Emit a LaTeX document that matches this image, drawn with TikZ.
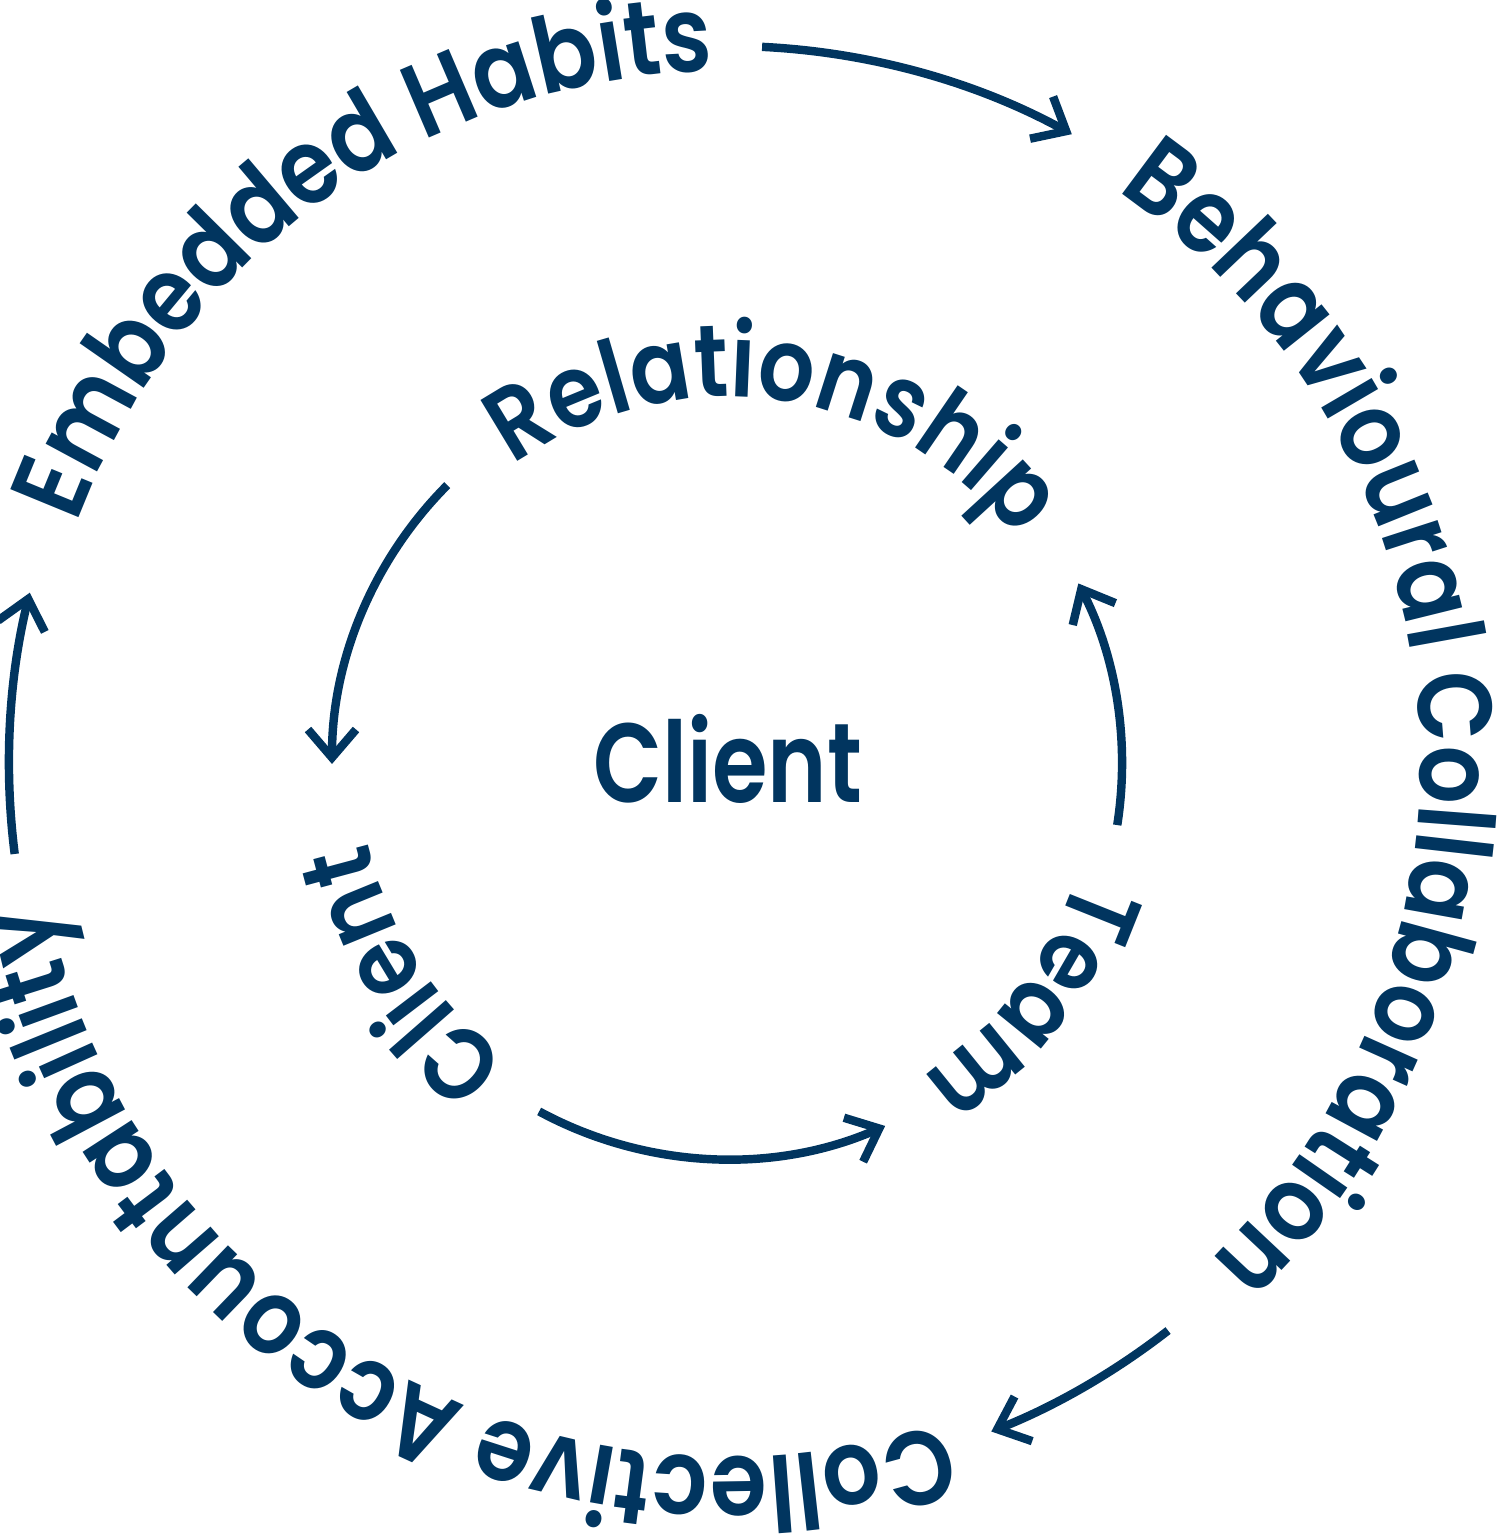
\documentclass[tikz,border=0pt]{standalone}
\usepackage{fontspec}
\setmainfont{Poppins}[UprightFont=* SemiBold, FakeStretch=0.87]
\newfontfamily\hubfamily{Poppins}[UprightFont=* SemiBold, FakeStretch=0.8]
\usetikzlibrary{arrows.meta,decorations.text}

\newcommand\ringfont{\fontsize{30}{36}\selectfont}
\newcommand\corefont{\fontsize{29}{35}\selectfont}
\newcommand\hubfont{\hubfamily\fontsize{32}{38}\selectfont}

\begin{document}
\begin{tikzpicture}[>={Straight Barb[sharp,length=2.8mm,width=4.8mm]}]
  \definecolor{ringnavy}{RGB}{1,53,95}
  \tikzset{
    flow/.style={ringnavy, line width=2.4pt, ->},
    ringtext/.style={decorate, decoration={text along path, text align=center, text color=ringnavy}}
  }

  \useasboundingbox (0,0) rectangle (15,15.34);
  \coordinate (c) at (7.27,7.70);

  \node[ringnavy, font=\hubfont, anchor=base] (hub) at (7.275,7.31) {Client};

  \begin{scope}[shift={(c)}]
    % outer ring
    \path[ringtext, decoration={text={|\ringfont|Embedded Habits}}]
      (190.4:6.93) arc[start angle=190.4, end angle=60.4, radius=6.93];
    \path[ringtext, decoration={text={|\ringfont|Behavioural Collaboration}}]
      (67:6.93) arc[start angle=67, end angle=-57, radius=6.93];
    \path[ringtext, decoration={text={|\ringfont|Collective Accountability}}]
      (299.8:6.93) arc[start angle=299.8, end angle=179.8, radius=6.93];

    \foreach \a/\b in {87.2/61.3, 187.2/166.2, -52.1/-68.4}
      \draw[flow] (\a:7.18) arc[start angle=\a, end angle=\b, radius=7.18];

    % inner ring
    \path[ringtext, decoration={text={|\corefont|Relationship}}]
      (136.7:3.67) arc[start angle=136.7, end angle=26.7, radius=3.67];
    \path[ringtext, decoration={text={|\corefont|Team}}]
      (-3:3.67) arc[start angle=-3, end angle=-73, radius=3.67];
    \path[ringtext, decoration={text={|\corefont|Client}}]
      (248:3.67) arc[start angle=248, end angle=178, radius=3.67];

    \foreach \a/\b in {135.1/180, 241.6/293.6, -8.9/27.2}
      \draw[flow] (\a:3.95) arc[start angle=\a, end angle=\b, radius=3.95];
  \end{scope}
\end{tikzpicture}
\end{document}
